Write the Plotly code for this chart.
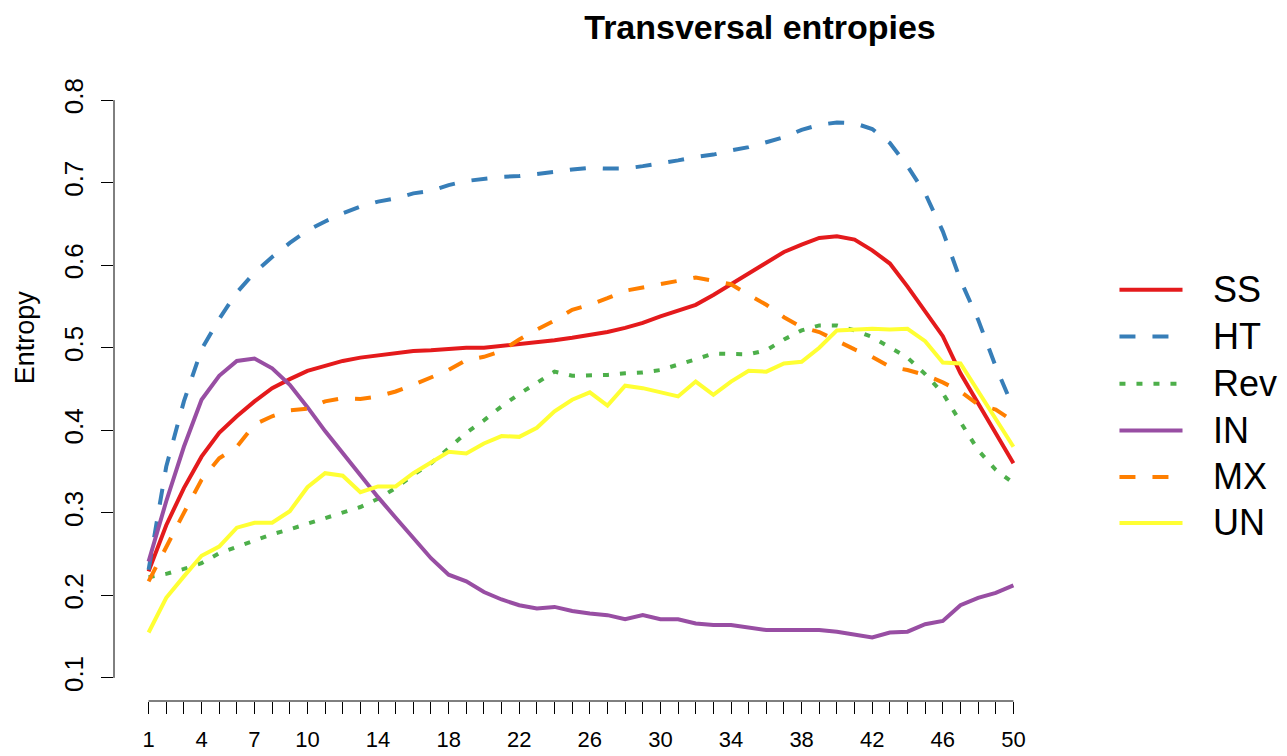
import plotly.graph_objects as go

x_vals = list(range(1, 51))
series_names = ["SS", "HT", "Rev", "IN", "MX", "UN"]

ss = [0.229, 0.285, 0.330, 0.368, 0.397, 0.417, 0.435, 0.451, 0.462, 0.472,
      0.478, 0.484, 0.488, 0.491, 0.494, 0.496, 0.497, 0.499, 0.500, 0.500,
      0.502, 0.505, 0.507, 0.509, 0.512, 0.515, 0.519, 0.524, 0.530, 0.538,
      0.545, 0.552, 0.564, 0.577, 0.591, 0.604, 0.616, 0.625, 0.633, 0.635,
      0.631, 0.618, 0.602, 0.574, 0.544, 0.514, 0.469, 0.433, 0.397, 0.360]
ht = [0.231, 0.356, 0.435, 0.498, 0.535, 0.567, 0.591, 0.610, 0.627, 0.642,
      0.653, 0.663, 0.671, 0.677, 0.681, 0.687, 0.690, 0.697, 0.702, 0.705,
      0.707, 0.708, 0.710, 0.713, 0.716, 0.718, 0.717, 0.717, 0.720, 0.723,
      0.727, 0.731, 0.734, 0.739, 0.743, 0.749, 0.755, 0.764, 0.770, 0.773,
      0.772, 0.765, 0.748, 0.720, 0.687, 0.641, 0.582, 0.534, 0.477, 0.427]
rev = [0.222, 0.226, 0.232, 0.239, 0.251, 0.259, 0.266, 0.274, 0.280, 0.287,
       0.294, 0.300, 0.307, 0.317, 0.330, 0.346, 0.360, 0.378, 0.397, 0.412,
       0.429, 0.444, 0.458, 0.471, 0.466, 0.466, 0.467, 0.469, 0.470, 0.473,
       0.479, 0.486, 0.493, 0.493, 0.492, 0.497, 0.510, 0.521, 0.527, 0.527,
       0.521, 0.513, 0.501, 0.488, 0.468, 0.445, 0.410, 0.376, 0.352, 0.336]
inn = [0.241, 0.314, 0.380, 0.437, 0.466, 0.484, 0.487, 0.475, 0.455, 0.428,
       0.399, 0.372, 0.346, 0.319, 0.294, 0.269, 0.245, 0.225, 0.217, 0.204,
       0.195, 0.188, 0.184, 0.186, 0.181, 0.178, 0.176, 0.171, 0.176, 0.171,
       0.171, 0.166, 0.164, 0.164, 0.161, 0.158, 0.158, 0.158, 0.158, 0.156,
       0.152, 0.149, 0.155, 0.156, 0.165, 0.169, 0.188, 0.197, 0.203, 0.212]
mx = [0.217, 0.259, 0.300, 0.340, 0.366, 0.380, 0.407, 0.417, 0.424, 0.426,
      0.435, 0.439, 0.438, 0.441, 0.447, 0.455, 0.464, 0.473, 0.485, 0.489,
      0.496, 0.510, 0.522, 0.533, 0.546, 0.552, 0.560, 0.569, 0.573, 0.577,
      0.580, 0.585, 0.581, 0.577, 0.564, 0.552, 0.537, 0.525, 0.519, 0.508,
      0.498, 0.489, 0.477, 0.473, 0.467, 0.458, 0.447, 0.431, 0.425, 0.411]
un = [0.155, 0.197, 0.223, 0.248, 0.259, 0.282, 0.288, 0.288, 0.302, 0.331,
      0.348, 0.345, 0.325, 0.332, 0.332, 0.348, 0.361, 0.374, 0.372, 0.384,
      0.393, 0.392, 0.403, 0.423, 0.437, 0.446, 0.430, 0.454, 0.451, 0.446,
      0.441, 0.459, 0.443, 0.459, 0.472, 0.471, 0.481, 0.483, 0.500, 0.521,
      0.522, 0.523, 0.522, 0.523, 0.508, 0.482, 0.481, 0.447, 0.415, 0.380]

x_tick_labels = ["1", "4", "7", "10", "14", "18", "22", "26", "30", "34", "38", "42", "46", "50"]
y_tick_vals = [0.1, 0.2, 0.3, 0.4, 0.5, 0.6, 0.7, 0.8]

colors = ["#E41A1C", "#377EB8", "#4DAF4A", "#984EA3", "#FF7F00", "#FFFF33"]
dashes = ["solid", "16px,17px", "6px,11px", "solid", "16px,17px", "solid"]
data = [ss, ht, rev, inn, mx, un]

# page body has an 8px margin: work in screen pixels and offset
OFF = 8
W, H = 1287 - OFF, 756 - OFF
L, R, T, B = 114.4 - OFF, 1047.6 - OFF, 77.0 - OFF, 701.5 - OFF

def px_to_paper_x(px):
    return (px - OFF - L) / (R - L)

def py_to_paper_y(py):
    return (B - (py - OFF)) / (B - T)

fig = go.Figure()
for name, ys, c, d in zip(series_names, data, colors, dashes):
    fig.add_trace(go.Scatter(x=x_vals, y=ys, mode="lines", name=name,
                             line=dict(color=c, width=4, dash=d),
                             showlegend=False))

ticktext = [str(v) if str(v) in x_tick_labels else "" for v in x_vals]
font_family = "Liberation Sans, Arial, sans-serif"

fig.update_layout(
    width=W, height=H,
    margin=dict(l=L, r=W - R, t=T, b=H - B, pad=0, autoexpand=False),
    paper_bgcolor="white", plot_bgcolor="white",
    xaxis=dict(range=[-0.96, 51.96], tickmode="array", tickvals=x_vals,
               ticktext=ticktext, ticks="outside", ticklen=12, tickwidth=1,
               tickcolor="black", showgrid=False, zeroline=False,
               showline=False, tickangle=0, ticklabelstandoff=7,
               automargin=False,
               tickfont=dict(family=font_family, size=22, color="black")),
    yaxis=dict(range=[0.072, 0.828], tickmode="array", tickvals=y_tick_vals,
               ticktext=[f"{v:.1f}" for v in y_tick_vals],
               ticks="outside", ticklen=12, tickwidth=1, tickcolor="black",
               showgrid=False, zeroline=False, showline=False,
               tickangle=-90, ticklabelstandoff=8, automargin=False,
               tickfont=dict(family=font_family, size=26, color="black")),
    title=dict(text="<b>Transversal entropies</b>", x=(760 - OFF) / W,
               y=1 - (27 - OFF) / H, xanchor="center", yanchor="middle",
               automargin=False,
               font=dict(family=font_family, size=34, color="black")),
    showlegend=False,
)

# R-style axis lines spanning only first to last tick
fig.add_shape(type="line", xref="x", yref="paper", x0=x_vals[0], x1=x_vals[-1],
              y0=0, y1=0, line=dict(color="black", width=1))
fig.add_shape(type="line", xref="paper", yref="y", x0=0, x1=0,
              y0=y_tick_vals[0], y1=y_tick_vals[-1], line=dict(color="black", width=1))

# y-axis title
fig.add_annotation(text="Entropy", xref="paper", yref="paper",
                   x=px_to_paper_x(25), y=py_to_paper_y(338), showarrow=False,
                   textangle=-90, xanchor="center", yanchor="middle",
                   font=dict(family=font_family, size=27, color="black"))

# manual legend
row_y = [290, 336.7, 384, 430.7, 477.3, 523.3]
for name, c, d, ry in zip(series_names, colors, dashes, row_y):
    fig.add_shape(type="line", xref="paper", yref="paper",
                  x0=px_to_paper_x(1119), x1=px_to_paper_x(1182),
                  y0=py_to_paper_y(ry), y1=py_to_paper_y(ry),
                  line=dict(color=c, width=4, dash=d))
    fig.add_annotation(text=name, xref="paper", yref="paper",
                       x=px_to_paper_x(1210), y=py_to_paper_y(ry),
                       showarrow=False, xanchor="left", yanchor="middle",
                       font=dict(family=font_family, size=36, color="black"))

fig.write_html("out.html")
